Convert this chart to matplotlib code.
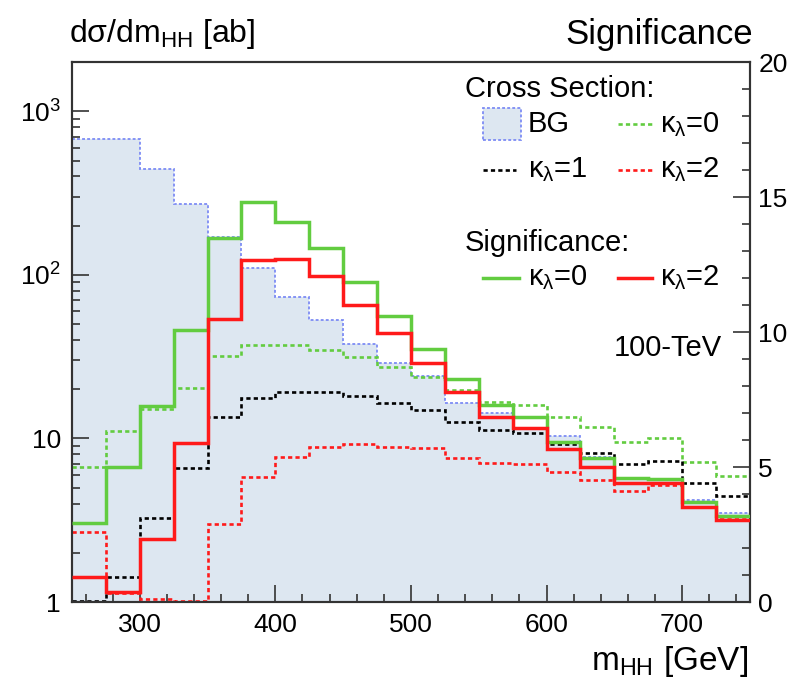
import matplotlib
matplotlib.use("Agg")
import matplotlib.pyplot as plt
import numpy as np
from matplotlib.ticker import FixedLocator, MultipleLocator, LogLocator, NullFormatter
from matplotlib.lines import Line2D
from matplotlib.patches import Rectangle

plt.rcParams['font.family'] = ['Liberation Sans', 'DejaVu Sans']
plt.rcParams['mathtext.fontset'] = 'custom'
plt.rcParams['mathtext.rm'] = 'Liberation Sans'
plt.rcParams['mathtext.it'] = 'Liberation Sans'
plt.rcParams['mathtext.default'] = 'regular'

# m_HH binning, 25 GeV bins from 250 to 750 GeV
edges = np.arange(250, 751, 25)

# cross sections [ab]
xs_bg = [680, 680, 445, 271, 170, 110, 73, 53, 38, 29,
         24, 16.5, 14.3, 11.4, 10.3, 7.7, 5.7, 5.6, 4.2, 3.5]
xs_k0 = [6.7, 11.1, 15.1, 20.4, 32, 37.3, 37, 34.8, 31.6, 27.4,
         23.8, 19.8, 16.7, 16.0, 13.5, 11.7, 9.5, 10.0, 7.2, 5.9]
xs_k1 = [1.02, 1.42, 3.27, 6.6, 13.5, 17.7, 19.3, 19.3, 18.2, 16.5,
         14.9, 12.6, 11.3, 10.8, 9.25, 8.1, 7.0, 7.3, 5.35, 4.45]
xs_k2 = [2.68, 1.13, 1.05, 1.01, 3.0, 5.8, 7.7, 8.9, 9.25, 8.9,
         8.7, 7.6, 7.1, 7.0, 6.2, 5.6, 4.8, 5.2, 3.8, 3.2]

# significance
sig_k0 = [2.93, 5.0, 7.26, 10.07, 13.5, 14.8, 14.07, 13.1, 11.85, 10.6,
          9.37, 8.26, 7.3, 6.85, 5.93, 5.33, 4.6, 4.55, 3.7, 3.19]
sig_k2 = [0.93, 0.37, 2.33, 5.9, 10.5, 12.67, 12.7, 12.07, 11.0, 9.96,
          8.85, 7.78, 6.85, 6.44, 5.66, 5.0, 4.4, 4.4, 3.52, 3.04]

c_fill = '#dde7f1'
c_bg = '#7d8cf5'
c_green = '#62cc40'
c_red = '#ff1a1a'
dots = (0, (1.6, 1.2))

fig = plt.figure(figsize=(7.91, 6.86), dpi=100)
ax = fig.add_axes([0.091, 0.1224, 0.857, 0.7872])

ax.stairs(xs_bg, edges, baseline=1, fill=True, color=c_fill, zorder=1)
ax.stairs(xs_bg, edges, baseline=None, color=c_bg, lw=1.3, ls=dots, zorder=2)
ax.stairs(xs_k0, edges, baseline=None, color=c_green, lw=1.9, ls=dots, zorder=3)
ax.stairs(xs_k1, edges, baseline=None, color='black', lw=1.9, ls=dots, zorder=3)
ax.stairs(xs_k2, edges, baseline=None, color=c_red, lw=1.9, ls=dots, zorder=3)

ax.set_yscale('log')
ax.set_ylim(1, 2000)
ax.set_xlim(250, 750)
ax.yaxis.set_major_locator(FixedLocator([1, 10, 100, 1000]))
ax.set_yticklabels(['1', '10', r'$10^2$', r'$10^3$'])
ax.yaxis.set_minor_locator(LogLocator(base=10, subs=np.arange(2, 10)))
ax.yaxis.set_minor_formatter(NullFormatter())
ax.xaxis.set_major_locator(MultipleLocator(100))
ax.xaxis.set_minor_locator(MultipleLocator(20))

ax2 = ax.twinx()
ax2.stairs(sig_k0, edges, baseline=None, color=c_green, lw=2.5, zorder=4)
ax2.stairs(sig_k2, edges, baseline=None, color=c_red, lw=2.5, zorder=4)
ax2.set_ylim(0, 20)
ax2.yaxis.set_major_locator(MultipleLocator(5))
ax2.yaxis.set_minor_locator(MultipleLocator(1))

for a in (ax, ax2):
    a.tick_params(which='both', direction='in', labelsize=19, width=1.2, color='#333333')
    a.tick_params(which='major', length=12)
    a.tick_params(which='minor', length=6)
    for s in a.spines.values():
        s.set_linewidth(1.5)
        s.set_color('#333333')
ax.tick_params(axis='y', right=False, pad=8)
ax.tick_params(axis='x', top=False, pad=8)
ax2.tick_params(axis='y', left=False, pad=6)

fig.text(0.087, 0.950, r'd$\sigma$/dm$_{\rm HH}$ [ab]', fontsize=23, ha='left', va='center')
fig.text(0.952, 0.950, 'Significance', fontsize=25, ha='right', va='center')
fig.text(0.946, 0.036, r'm$_{\rm HH}$ [GeV]', fontsize=24, ha='right', va='center')
ax2.text(0.879, 0.47, '100-TeV', transform=ax2.transAxes, fontsize=21, ha='center', va='center')

# legend block, axes-fraction coordinates
lk = dict(transform=ax2.transAxes, fontsize=21, va='center')
ax2.text(0.580, 0.950, 'Cross Section:', ha='left', **lk)
ax2.add_patch(Rectangle((0.607, 0.855), 0.055, 0.06, transform=ax2.transAxes,
                        facecolor=c_fill, edgecolor=c_bg, lw=1.3, ls=dots, zorder=5))
ax2.text(0.672, 0.885, 'BG', ha='left', **lk)
ax2.add_line(Line2D([0.805, 0.855], [0.885, 0.885], transform=ax2.transAxes,
                    color=c_green, lw=1.9, ls=dots))
ax2.text(0.867, 0.885, r'$\kappa_\lambda$=0', ha='left', **lk)
ax2.add_line(Line2D([0.607, 0.655], [0.80, 0.80], transform=ax2.transAxes,
                    color='black', lw=1.9, ls=dots))
ax2.text(0.672, 0.80, r'$\kappa_\lambda$=1', ha='left', **lk)
ax2.add_line(Line2D([0.805, 0.855], [0.80, 0.80], transform=ax2.transAxes,
                    color=c_red, lw=1.9, ls=dots))
ax2.text(0.867, 0.80, r'$\kappa_\lambda$=2', ha='left', **lk)
ax2.text(0.580, 0.665, 'Significance:', ha='left', **lk)
ax2.add_line(Line2D([0.607, 0.660], [0.60, 0.60], transform=ax2.transAxes,
                    color=c_green, lw=2.5))
ax2.text(0.672, 0.60, r'$\kappa_\lambda$=0', ha='left', **lk)
ax2.add_line(Line2D([0.805, 0.855], [0.60, 0.60], transform=ax2.transAxes,
                    color=c_red, lw=2.5))
ax2.text(0.867, 0.60, r'$\kappa_\lambda$=2', ha='left', **lk)

fig.savefig('out.png', dpi=100)
